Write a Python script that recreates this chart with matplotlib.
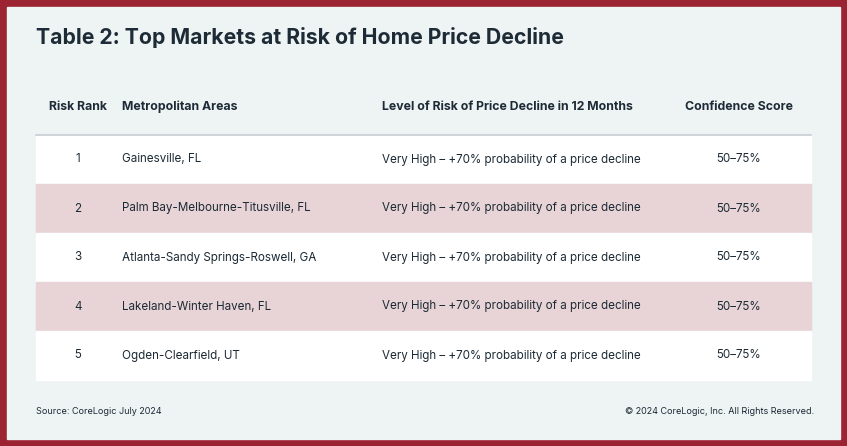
import matplotlib
matplotlib.use("Agg")
import matplotlib.pyplot as plt
from matplotlib.patches import Rectangle

title = "Table 2: Top Markets at Risk of Home Price Decline"
headers = ["Risk Rank", "Metropolitan Areas", "Level of Risk of Price Decline in 12 Months", "Confidence Score"]
ranks = ["1", "2", "3", "4", "5"]
areas = ["Gainesville, FL", "Palm Bay-Melbourne-Titusville, FL", "Atlanta-Sandy Springs-Roswell, GA",
         "Lakeland-Winter Haven, FL", "Ogden-Clearfield, UT"]
risk = ["Very High \u2013 +70% probability of a price decline"] * 5
confidence = ["50\u201375%"] * 5
source = "Source: CoreLogic July 2024"
copyright_text = "\u00a9 2024 CoreLogic, Inc. All Rights Reserved."

W, H = 847, 446
fig = plt.figure(figsize=(W/100, H/100), dpi=100)
fig.patch.set_facecolor("#9b2332")
ax = fig.add_axes([0, 0, 1, 1])
ax.set_xlim(0, W); ax.set_ylim(H, 0); ax.axis("off")
ax.add_patch(Rectangle((7, 7), W-14, H-14, color="#eef3f4", zorder=0))

font = "Inter"
dark = "#1d2b36"
ax.text(36, 38, title, fontsize=15.3, fontweight="bold", color=dark, va="center", family=font)

colx = [78, 122, 382, 739]
align = ["center", "left", "left", "center"]
for x, h, a in zip(colx, headers, align):
    ax.text(x, 107, h, fontsize=8.85, fontweight="bold", color=dark, va="center", ha=a, family=font)

top, rh = 135, 49
ax.plot([36, 811], [top, top], color="#c5ced3", lw=1.2, zorder=3)
for i in range(len(ranks)):
    y0 = top + i*rh
    ax.add_patch(Rectangle((36, y0), 775, rh, color="#ffffff" if i % 2 == 0 else "#e8d4d6", zorder=1))
    yc = y0 + rh/2
    for x, t, a in zip(colx, [ranks[i], areas[i], risk[i], confidence[i]], align):
        ax.text(x, yc, t, fontsize=8.35, color=dark, va="center", ha=a, family=font, zorder=4)

ax.text(36, 412, source, fontsize=6.5, color=dark, va="center", family=font)
ax.text(814, 412, copyright_text, fontsize=6.5, color=dark, va="center", ha="right", family=font)

fig.savefig("out.png", dpi=100, facecolor=fig.get_facecolor())
